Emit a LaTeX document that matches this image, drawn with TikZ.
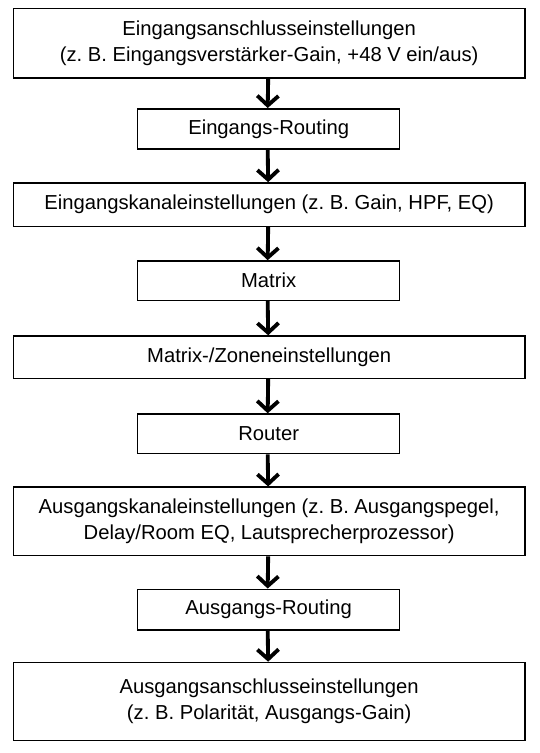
\documentclass[tikz,border=0pt]{standalone}
\usepackage{fontspec}
\setmainfont{Liberation Sans}
\usetikzlibrary{arrows.meta}
\frenchspacing
\begin{document}
\begin{tikzpicture}[x=1pt,y=-1pt,
  box/.style={draw, line width=1.6pt, inner sep=0pt, align=center,
    font=\fontsize{21}{27}\selectfont\frenchspacing},
  widebox/.style={box, minimum width=531pt},
  narrowbox/.style={box, minimum width=272pt},
  flow/.style={line width=4pt, -{Straight Barb[length=10pt,width=22pt,line width=4pt]}}]
\useasboundingbox (0,0) rectangle (560,782);
\node[widebox, minimum height=72pt] (n1) at (279.5,45) {Eingangsanschlusseinstellungen\\(z. B. Eingangsverstärker-Gain, +48 V ein/aus)};
\node[narrowbox, minimum height=42pt] (n2) at (279,134) {Eingangs-Routing};
\node[widebox, minimum height=45pt] (n3) at (279.5,212.5) {Eingangskanaleinstellungen (z. B. Gain, HPF, EQ)};
\node[narrowbox, minimum height=41pt] (n4) at (279,291.5) {Matrix};
\node[widebox, minimum height=44pt] (n5) at (279.5,371) {Matrix-/Zoneneinstellungen};
\node[narrowbox, minimum height=41pt] (n6) at (279,450.5) {Router};
\node[widebox, minimum height=71pt] (n7) at (279.5,541.5) {Ausgangskanaleinstellungen (z. B. Ausgangspegel,\\Delay/Room EQ, Lautsprecherprozessor)};
\node[narrowbox, minimum height=42pt] (n8) at (279,633) {Ausgangs-Routing};
\node[widebox, minimum height=81pt] (n9) at (279.5,728.5) {Ausgangsanschlusseinstellungen\\(z. B. Polarität, Ausgangs-Gain)};
\foreach \a/\b in {n1/n2,n2/n3,n3/n4,n4/n5,n5/n6,n6/n7,n7/n8,n8/n9}
  \draw[flow] ([xshift=-1pt]\a.south) -- ([xshift=-1pt]\b.north);
\end{tikzpicture}
\end{document}
